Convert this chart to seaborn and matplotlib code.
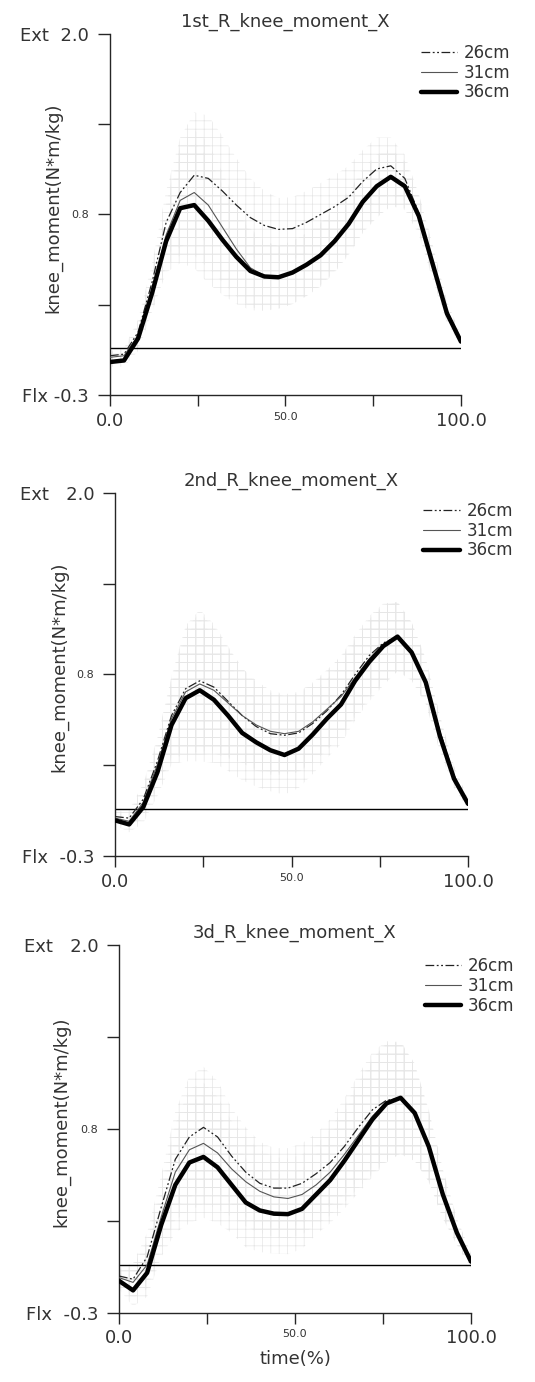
import numpy as np
import pandas as pd
import matplotlib
matplotlib.use("Agg")
import matplotlib.pyplot as plt
import seaborn as sns

# ---------------- data ----------------
time_pct = [0, 4, 8, 12, 16, 20, 24, 28, 32, 36, 40, 44, 48, 52,
            56, 60, 64, 68, 72, 76, 80, 84, 88, 92, 96, 100]
heights = ["26cm", "31cm", "36cm"]
titles = ["1st_R_knee_moment_X", "2nd_R_knee_moment_X", "3d_R_knee_moment_X"]

p1_26cm = [-0.05, -0.04, 0.10, 0.42, 0.80, 0.99, 1.10, 1.08, 1.00, 0.91, 0.83, 0.78, 0.755,
           0.76, 0.80, 0.85, 0.90, 0.96, 1.06, 1.14, 1.16, 1.08, 0.86, 0.55, 0.23, 0.05]
p1_31cm = [-0.06, -0.05, 0.08, 0.37, 0.72, 0.94, 0.99, 0.91, 0.77, 0.63, 0.51, 0.46, 0.45,
           0.48, 0.53, 0.60, 0.69, 0.80, 0.94, 1.03, 1.08, 1.04, 0.86, 0.55, 0.24, 0.05]
p1_36cm = [-0.09, -0.08, 0.06, 0.35, 0.68, 0.89, 0.91, 0.81, 0.69, 0.58, 0.49, 0.455, 0.45,
           0.48, 0.53, 0.59, 0.68, 0.79, 0.93, 1.03, 1.09, 1.03, 0.84, 0.53, 0.22, 0.04]

p2_26cm = [-0.05, -0.06, 0.06, 0.30, 0.59, 0.76, 0.81, 0.77, 0.68, 0.59, 0.52, 0.475, 0.465,
           0.48, 0.54, 0.62, 0.72, 0.85, 0.97, 1.05, 1.09, 1.00, 0.81, 0.49, 0.21, 0.03]
p2_31cm = [-0.06, -0.08, 0.04, 0.28, 0.57, 0.74, 0.79, 0.75, 0.67, 0.59, 0.53, 0.49, 0.475,
           0.49, 0.55, 0.63, 0.71, 0.83, 0.95, 1.04, 1.09, 1.00, 0.81, 0.49, 0.21, 0.03]
p2_36cm = [-0.074, -0.10, 0.01, 0.23, 0.53, 0.70, 0.75, 0.69, 0.59, 0.48, 0.42, 0.37, 0.34,
           0.38, 0.47, 0.57, 0.66, 0.81, 0.93, 1.03, 1.09, 0.99, 0.80, 0.46, 0.19, 0.03]

p3_26cm = [-0.07, -0.09, 0.05, 0.36, 0.66, 0.80, 0.86, 0.80, 0.68, 0.58, 0.51, 0.48, 0.48,
           0.51, 0.57, 0.64, 0.74, 0.86, 0.97, 1.03, 1.04, 0.95, 0.74, 0.44, 0.21, 0.03]
p3_31cm = [-0.08, -0.11, 0.00, 0.30, 0.58, 0.72, 0.76, 0.70, 0.60, 0.52, 0.46, 0.425, 0.415,
           0.44, 0.50, 0.58, 0.69, 0.81, 0.93, 1.02, 1.05, 0.96, 0.75, 0.45, 0.21, 0.03]
p3_36cm = [-0.10, -0.16, -0.05, 0.25, 0.50, 0.64, 0.675, 0.61, 0.50, 0.39, 0.34, 0.32, 0.317,
           0.35, 0.44, 0.53, 0.65, 0.78, 0.91, 1.01, 1.045, 0.95, 0.74, 0.44, 0.20, 0.02]

# pooled standard deviation (drawn as faint hatched bands)
p1_sd = [0.03, 0.04, 0.08, 0.12, 0.20, 0.35, 0.40, 0.40, 0.35, 0.30, 0.25, 0.22, 0.20,
         0.20, 0.20, 0.20, 0.20, 0.20, 0.20, 0.20, 0.18, 0.15, 0.12, 0.10, 0.06, 0.03]
p2_sd = [0.03, 0.05, 0.10, 0.15, 0.25, 0.40, 0.45, 0.40, 0.35, 0.30, 0.28, 0.26, 0.25,
         0.25, 0.25, 0.25, 0.25, 0.25, 0.25, 0.25, 0.22, 0.18, 0.14, 0.10, 0.06, 0.03]
p3_sd = [0.05, 0.10, 0.15, 0.20, 0.30, 0.38, 0.38, 0.35, 0.30, 0.28, 0.26, 0.25, 0.25,
         0.25, 0.25, 0.27, 0.30, 0.33, 0.36, 0.37, 0.35, 0.30, 0.22, 0.15, 0.08, 0.04]

panel_means = [[p1_26cm, p1_31cm, p1_36cm],
               [p2_26cm, p2_31cm, p2_36cm],
               [p3_26cm, p3_31cm, p3_36cm]]
panel_sd = [p1_sd, p2_sd, p3_sd]

ytick_vals = [-0.3, 0.275, 0.85, 1.425, 2.0]
ytick_labels = [["Flx -0.3", "", "0.8", "", "Ext  2.0"],
                ["Flx  -0.3", "", "0.8", "", "Ext   2.0"],
                ["Flx  -0.3", "", "0.8", "", "Ext   2.0"]]
xtick_vals = [0, 25, 50, 75, 100]
xtick_labels = ["0.0", "", "50.0", "", "100.0"]

# ---------------- style ----------------
sns.set_style("ticks")
plt.rcParams["font.family"] = ["DejaVu Sans"]
plt.rcParams["hatch.linewidth"] = 0.5

TXT = "#333333"
fig = plt.figure(figsize=(5.35, 13.82), dpi=100)
rects = [(0.2056, 0.7142, 0.656, 0.2612),
         (0.2150, 0.3806, 0.660, 0.2627),
         (0.2224, 0.0501, 0.658, 0.2660)]
legend_anchor = [(0.885, 0.972), (0.872, 0.975), (0.868, 0.967)]
ylabel_x = [-0.137, -0.133, -0.139]

palette = {"26cm": "#222222", "31cm": "#555555", "36cm": "#000000"}
sizes = {"26cm": 0.9, "31cm": 0.8, "36cm": 3.2}
dashes = {"26cm": (7, 2, 1.5, 2, 1.5, 2), "31cm": "", "36cm": ""}

for i in range(3):
    ax = fig.add_axes(rects[i])
    means = panel_means[i]
    sd = np.array(panel_sd[i])
    x = np.array(time_pct)

    for m in means:
        m = np.array(m)
        ax.fill_between(x, m - sd, m + sd, facecolor="none",
                        edgecolor="#e6e6e6", hatch="++", lw=0, zorder=1)

    ax.axhline(0, color="black", lw=1.0, zorder=2)

    df = pd.DataFrame({
        "time": np.tile(x, 3),
        "moment": np.concatenate([np.array(m) for m in means]),
        "height": np.repeat(heights, len(x)),
    })
    sns.lineplot(data=df, x="time", y="moment", hue="height", style="height",
                 size="height", palette=palette, sizes=sizes, dashes=dashes,
                 estimator=None, sort=False, ax=ax, zorder=3)

    ax.set_xlim(0, 100)
    ax.set_ylim(-0.3, 2.0)
    sns.despine(ax=ax)
    ax.spines["left"].set_linewidth(1.0)
    ax.spines["bottom"].set_linewidth(1.0)

    ax.set_yticks(ytick_vals)
    ax.set_yticklabels(ytick_labels[i])
    ax.set_xticks(xtick_vals)
    ax.set_xticklabels(xtick_labels)
    ax.tick_params(axis="y", length=9, width=1, pad=6, labelcolor=TXT)
    ax.tick_params(axis="x", length=8, width=1, pad=4, labelcolor=TXT)
    for lab in ax.get_yticklabels():
        lab.set_fontsize(8 if lab.get_text() == "0.8" else 13)
    for lab in ax.get_xticklabels():
        lab.set_fontsize(8 if lab.get_text() == "50.0" else 13)

    ax.set_ylabel("knee_moment(N*m/kg)", fontsize=13, color=TXT)
    ax.yaxis.set_label_coords(ylabel_x[i], 0.52)
    if i == 2:
        ax.set_xlabel("time(%)", fontsize=13, color=TXT, labelpad=2)
    else:
        ax.set_xlabel("")
    ax.set_title(titles[i], fontsize=13, color=TXT, pad=5)

    sns.move_legend(ax, "upper left", bbox_to_anchor=legend_anchor[i],
                    frameon=False, title=None, fontsize=12, handlelength=2.2,
                    handletextpad=0.4, labelspacing=0.1, borderpad=0,
                    borderaxespad=0)
    for t in ax.get_legend().get_texts():
        t.set_color(TXT)

fig.savefig("out.png", dpi=100)
